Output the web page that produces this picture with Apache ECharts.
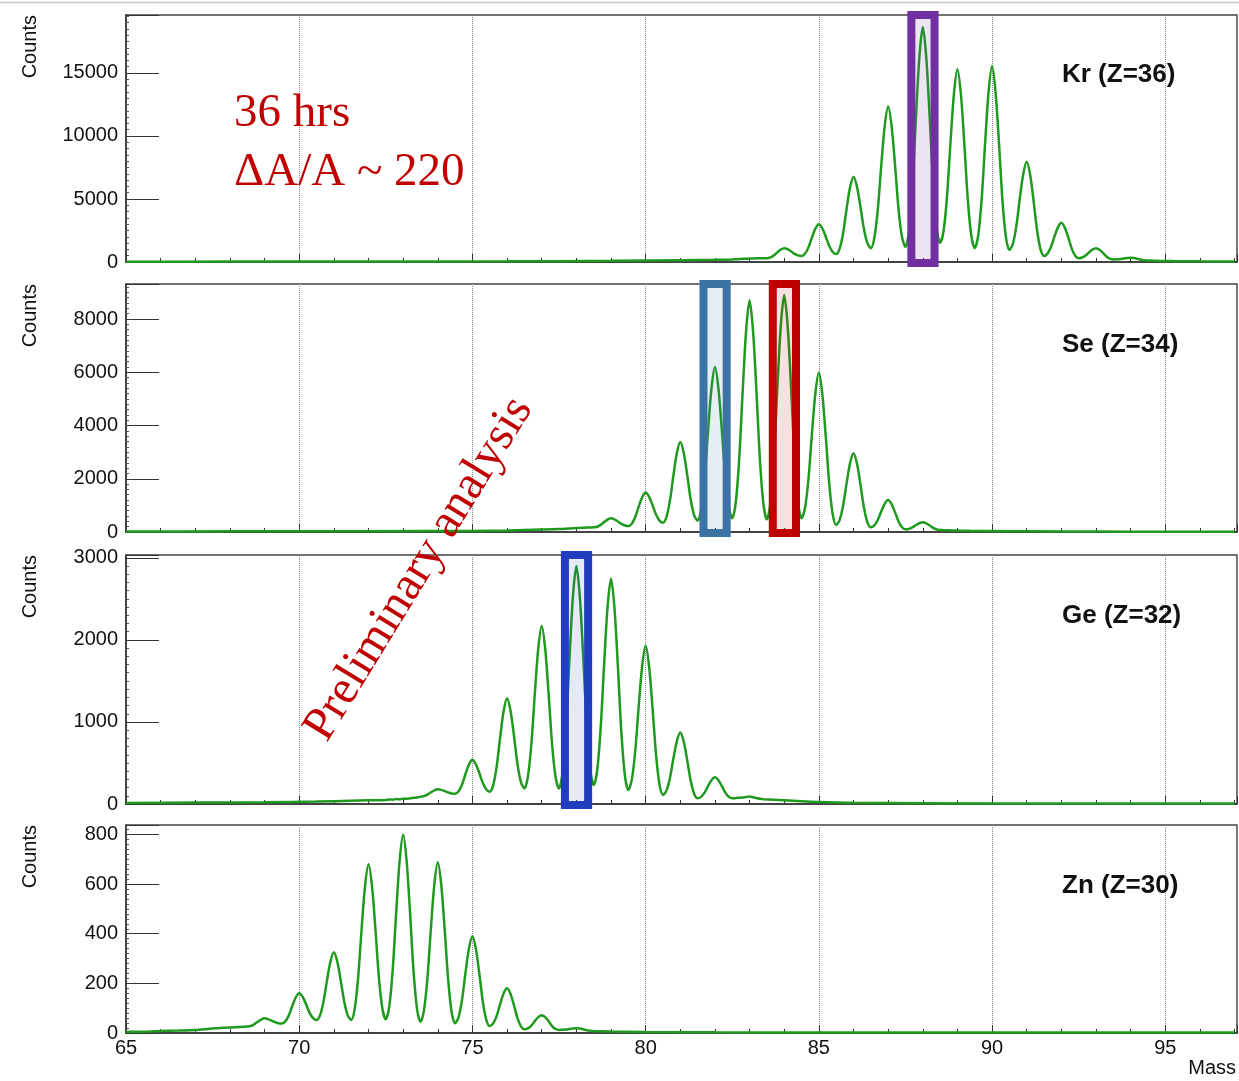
<!DOCTYPE html>
<html>
<head>
<meta charset="utf-8">
<title>Mass spectra</title>
<script src="https://cdn.jsdelivr.net/npm/echarts@6.0.0/dist/echarts.min.js"></script>
<style>
  html, body { margin: 0; padding: 0; background: #fff; }
  #main { width: 1239px; height: 1081px; }
</style>
</head>
<body>
<div id="main"></div>
<script>
// histogram bins are 0.1 mass units wide, floor points cover the quiet stretches
var binWidth = 0.1
var massMin = 65
var massMax = 97.07

var panelNames = ['Kr (Z=36)', 'Se (Z=34)', 'Ge (Z=32)', 'Zn (Z=30)']
var yMax = [19600, 9315, 3035, 838]
var yStep = [5000, 2000, 1000, 200]

var krStart = 82.5
var krCounts = [
  200, 220, 230, 250, 260, 270, 280, 290, 290, 300,
  300, 356, 516, 764, 988, 1100, 1013, 840, 647, 523,
  480, 656, 1160, 1942, 2647, 3000, 2668, 2005, 1270, 796,
  630, 1060, 2288, 4191, 5910, 6770, 5976, 4389, 2631, 1497,
  1100, 1886, 4132, 7613, 10758, 12330, 10772, 7655, 4205, 1979,
  1200, 2422, 5912, 11321, 16207, 18650, 16249, 11447, 6131, 2701,
  1500, 2466, 5226, 9504, 13368, 15300, 13312, 9336, 4934, 2094,
  1100, 2112, 5002, 9481, 13527, 15550, 13506, 9418, 4892, 1972,
  950, 1441, 2843, 5016, 6979, 7960, 6913, 4818, 2500, 1004,
  480, 665, 1193, 2011, 2750, 3120, 2725, 1936, 1061, 497,
  300, 356, 516, 764, 988, 1100, 974, 722, 443, 263,
  200, 210, 238, 281, 320, 340, 309, 248, 179, 135,
  120, 110, 100, 90, 80, 80, 70, 70, 60, 60
]
var krFloor = [[65, 25], [68, 30], [72, 35], [76, 50], [79, 90], [81, 140], [82, 170], [96, 50], [97, 40]]

var seStart = 78.0
var seCounts = [
  150, 155, 160, 165, 170,
  175, 199, 267, 372, 467, 515, 474, 393, 303, 245,
  225, 313, 564, 953, 1304, 1480, 1322, 1005, 655, 429,
  350, 562, 1168, 2107, 2956, 3380, 2966, 2139, 1223, 632,
  425, 829, 1984, 3775, 5392, 6200, 5405, 3814, 2054, 918,
  520, 1093, 2729, 5264, 7555, 8700, 7549, 5246, 2696, 1051,
  475, 1065, 2750, 5362, 7721, 8900, 7726, 5378, 2779, 1102,
  515, 898, 1991, 3685, 5215, 5980, 5180, 3579, 1807, 663,
  263, 452, 991, 1827, 2582, 2960, 2570, 1790, 927, 370,
  175, 247, 452, 770, 1057, 1200, 1046, 738, 397, 177,
  100, 119, 172, 254, 328, 365, 324, 243, 153, 95,
  75, 70, 65, 60, 60, 55, 50, 50, 45, 40
]
var seFloor = [[65, 20], [68, 25], [72, 30], [75, 40], [76, 60], [77, 90], [77.5, 110], [90.5, 30], [92, 20], [94, 12], [97, 10]]

var geStart = 72.5
var geCounts = [
  50, 55, 52, 60, 58, 65, 63, 70, 75, 80,
  90, 96, 114, 142, 167, 180, 172, 157, 140, 129,
  125, 154, 237, 366, 482, 540, 485, 376, 255, 177,
  150, 230, 458, 811, 1130, 1290, 1136, 828, 487, 267,
  190, 329, 725, 1338, 1893, 2170, 1893, 1338, 725, 329,
  190, 380, 922, 1762, 2521, 2900, 2526, 1779, 952, 419,
  232, 408, 912, 1692, 2397, 2750, 2389, 1667, 867, 352,
  171, 294, 646, 1191, 1684, 1930, 1675, 1166, 601, 237,
  110, 163, 315, 551, 764, 870, 758, 534, 285, 125,
  69, 87, 138, 217, 289, 325, 289, 218, 139, 88,
  70, 72, 75, 80, 86, 90, 82, 72, 63, 58
]
var geFloor = [[65, 12], [67, 18], [69, 22], [70.5, 30], [71.5, 40], [72, 45], [84, 45], [84.5, 35], [85, 25], [86, 15], [88, 10], [92, 5], [97, 5]]

var znStart = 68.5
var znCounts = [
  26, 28, 35, 45, 54, 59, 56, 50, 44, 39,
  38, 47, 71, 109, 143, 160, 145, 115, 81, 60,
  52, 71, 126, 210, 287, 325, 287, 210, 126, 71,
  52, 96, 222, 416, 592, 680, 593, 418, 224, 99,
  55, 107, 256, 487, 696, 800, 694, 483, 249, 98,
  45, 90, 219, 418, 598, 688, 597, 415, 214, 84,
  39, 64, 134, 243, 341, 390, 339, 238, 126, 53,
  28, 39, 69, 116, 159, 180, 157, 111, 60, 27,
  15, 19, 30, 48, 64, 72, 64, 47, 28, 16,
  12, 13, 14, 16, 18, 19, 18, 15, 11, 9
]
var znFloor = [[65, 5], [65.5, 5], [66, 8], [66.5, 10], [67, 12], [67.5, 18], [68, 22], [78.5, 8], [79, 6], [80, 4], [82, 3], [86, 2], [97, 2]]

// highlighted peaks: mass and panel
var boxMasses = [88, 82, 84, 78]
var boxPanels = [0, 1, 1, 2]

function histogram (start, counts, floor) {
  var end = start + counts.length * binWidth
  var pts = floor.filter(function (p) { return p[0] < start })
  counts.forEach(function (c, i) {
    pts.push([+(start + i * binWidth).toFixed(2), c])
  })
  floor.forEach(function (p) {
    if (p[0] >= end - 1e-6) pts.push(p)
  })
  return pts
}

var spectra = [
  histogram(krStart, krCounts, krFloor),
  histogram(seStart, seCounts, seFloor),
  histogram(geStart, geCounts, geFloor),
  histogram(znStart, znCounts, znFloor)
]

var tops = [15, 284, 555, 825]
var heights = [247, 248, 249, 208]
var labelY = [75, 345, 616, 886]
var sans = '"Liberation Sans", Arial, Helvetica, sans-serif'
var serif = '"Liberation Serif", "Times New Roman", serif'
var boxColors = ['#7030a0', '#3d72a4', '#c00000', '#1f3dbd']
var boxFills = ['rgba(112,48,160,0.13)', 'rgba(61,114,164,0.13)', 'rgba(192,0,0,0.12)', 'rgba(31,61,189,0.11)']

var chartDom = document.getElementById('main')
var myChart = echarts.init(chartDom, null, { renderer: 'canvas' })

var grids = []
var xAxes = []
var yAxes = []
var series = []
var texts = []

tops.forEach(function (top, i) {
  grids.push({
    left: 126,
    right: 2,
    top: top,
    height: heights[i],
    show: true,
    borderColor: '#444',
    borderWidth: 1.5
  })
  xAxes.push({
    type: 'value',
    gridIndex: i,
    min: massMin,
    max: massMax,
    interval: 5,
    axisLine: { show: true, lineStyle: { color: '#333', width: 1.5 } },
    axisTick: { show: true, inside: true, length: 8, lineStyle: { color: '#333' } },
    minorTick: { show: true, splitNumber: 5, length: 4, lineStyle: { color: '#333' } },
    splitLine: { show: true, lineStyle: { color: '#8a8a8a', type: 'dotted', width: 1 } },
    axisLabel: {
      show: i === 3,
      showMaxLabel: false,
      fontFamily: sans,
      fontSize: 20,
      color: '#111',
      margin: 5
    }
  })
  yAxes.push({
    type: 'value',
    gridIndex: i,
    min: 0,
    max: yMax[i],
    interval: yStep[i],
    axisLine: { show: true, lineStyle: { color: '#333', width: 1.5 } },
    axisTick: { show: true, inside: true, length: 33, lineStyle: { color: '#333' } },
    minorTick: { show: true, splitNumber: 10, length: 3, lineStyle: { color: '#555' } },
    splitLine: { show: false },
    axisLabel: {
      showMaxLabel: false,
      fontFamily: sans,
      fontSize: 20,
      color: '#111',
      margin: 8,
      formatter: function (v) { return String(v) }
    }
  })
  series.push({
    type: 'line',
    xAxisIndex: i,
    yAxisIndex: i,
    showSymbol: false,
    smooth: 0.3,
    clip: true,
    lineStyle: { color: '#1f9a1f', width: 2.5 },
    data: spectra[i]
  })
  texts.push({
    type: 'text',
    x: 30,
    y: top,
    rotation: Math.PI / 2,
    z: 100,
    style: { text: 'Counts', font: '20px ' + sans, fill: '#111', textAlign: 'right', textVerticalAlign: 'middle' }
  })
  texts.push({
    type: 'text',
    x: 1062,
    y: labelY[i],
    z: 100,
    style: { text: panelNames[i], font: 'bold 26px ' + sans, fill: '#111', textAlign: 'left', textVerticalAlign: 'middle' }
  })
})

texts.push(
  {
    type: 'line',
    z: 100,
    shape: { x1: 0, y1: 2.5, x2: 1239, y2: 2.5 },
    style: { stroke: '#c8c8c8', lineWidth: 1.5 }
  },
  {
    type: 'text', x: 1236, y: 1068, z: 100,
    style: { text: 'Mass', font: '20px ' + sans, fill: '#111', textAlign: 'right', textVerticalAlign: 'middle' }
  },
  {
    type: 'text', x: 234, y: 114, z: 100,
    style: { text: '36 hrs', font: '47px ' + serif, fill: '#c00000', textAlign: 'left', textVerticalAlign: 'middle' }
  },
  {
    type: 'text', x: 234, y: 173, z: 100,
    style: { text: 'ΔA/A ~ 220', font: '47px ' + serif, fill: '#c00000', textAlign: 'left', textVerticalAlign: 'middle' }
  },
  {
    type: 'text', x: 419, y: 569, z: 100,
    rotation: 1.02,
    style: { text: 'Preliminary analysis', font: '48px ' + serif, fill: '#c00000', textAlign: 'center', textVerticalAlign: 'middle' }
  }
)

var option = {
  animation: false,
  backgroundColor: '#fff',
  grid: grids,
  xAxis: xAxes,
  yAxis: yAxes,
  series: series,
  graphic: texts
}
myChart.setOption(option)

// boxes around the selected peaks, placed through the axes
var rects = boxMasses.map(function (m, i) {
  var g = boxPanels[i]
  var x1 = myChart.convertToPixel({ gridIndex: g }, [m - 0.33, 0])[0]
  var x2 = myChart.convertToPixel({ gridIndex: g }, [m + 0.34, 0])[0]
  return {
    type: 'rect',
    z: 90,
    shape: { x: x1, y: tops[g], width: x2 - x1, height: heights[g] + 1 },
    style: { fill: boxFills[i], stroke: boxColors[i], lineWidth: 8 }
  }
})
option && myChart.setOption({ graphic: texts.concat(rects) })
</script>
</body>
</html>
